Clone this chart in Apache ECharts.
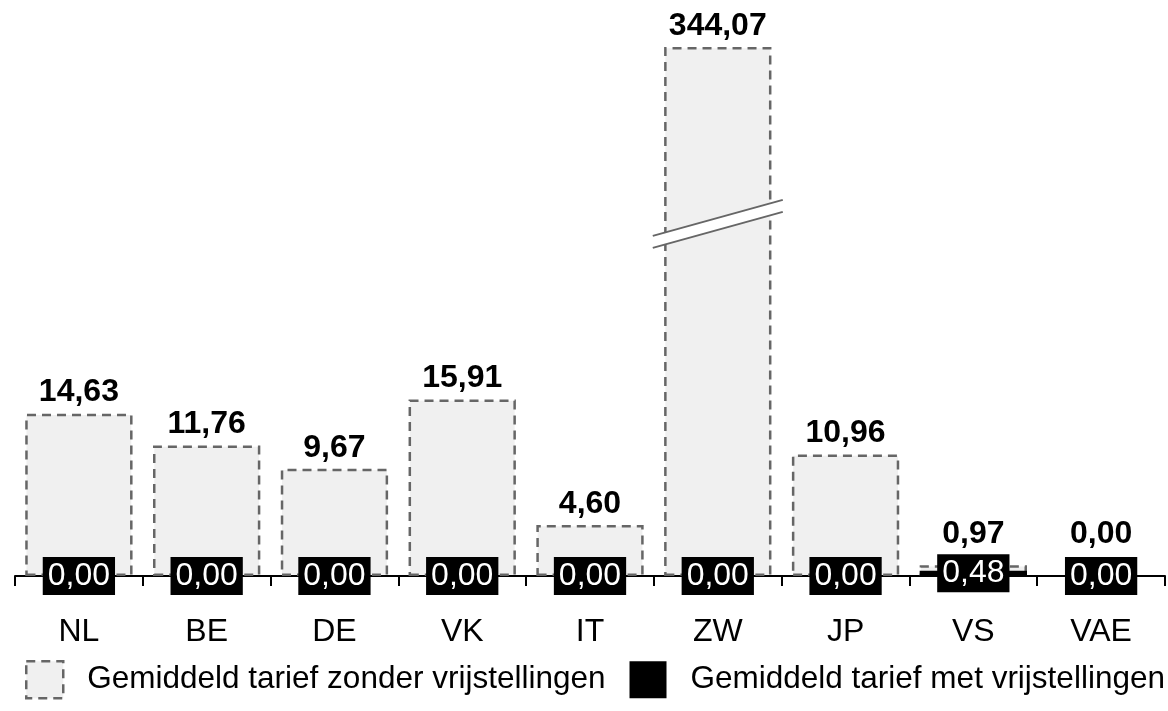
<!DOCTYPE html>
<html>
<head>
<meta charset="utf-8">
<script src="https://cdn.jsdelivr.net/npm/echarts@6/dist/echarts.min.js"></script>
<style>
  html, body { margin: 0; padding: 0; background: #fff; }
  #chart { width: 1168px; height: 711px; }
</style>
</head>
<body>
<div id="chart"></div>
<script>
// landen
var categories = ['NL', 'BE', 'DE', 'VK', 'IT', 'ZW', 'JP', 'VS', 'VAE'];
// gemiddeld tarief zonder vrijstellingen
var zonderValues = [14.63, 11.76, 9.67, 15.91, 4.60, 344.07, 10.96, 0.97, 0.00];
// gemiddeld tarief met vrijstellingen
var metValues = [0, 0, 0, 0, 0, 0, 0, 0.48, 0];
var seriesNames = ['Gemiddeld tarief zonder vrijstellingen', 'Gemiddeld tarief met vrijstellingen'];
// as-onderbreking (ZW is veel hoger)
var breakStart = 31.5;
var breakEnd = 328.9;

function fmt(p) {
    return Number(p.value).toFixed(2).replace('.', ',');
}

var font = 'Liberation Sans, Arial, sans-serif';
var grayStyle = {
    color: '#f0f0f0',
    borderColor: '#666',
    borderWidth: 2.5,
    borderType: [9, 6]
};
var chart = echarts.init(document.getElementById('chart'));

var option = {
    animation: false,
    textStyle: { fontFamily: font },
    grid: { left: 15, right: 3, top: 47, bottom: 135 },
    legend: {
        left: 25,
        top: 660,
        padding: 0,
        width: 1160,
        itemWidth: 37,
        itemHeight: 37,
        itemGap: 24,
        icon: 'rect',
        textStyle: { fontSize: 31.5, color: '#000', fontFamily: font, padding: [0, 0, 0, 19] },
        data: [
            { name: seriesNames[0], itemStyle: grayStyle },
            { name: seriesNames[1] }
        ]
    },
    xAxis: {
        type: 'category',
        data: categories,
        axisLine: { lineStyle: { color: '#000', width: 2 } },
        axisTick: { show: true, length: 10, lineStyle: { color: '#000', width: 2 } },
        axisLabel: { fontSize: 32, color: '#000', margin: 40, fontFamily: font }
    },
    yAxis: {
        type: 'value',
        show: false,
        min: 0,
        max: 344.07,
        breaks: [{ start: breakStart, end: breakEnd, gap: 1 }],
        breakArea: { show: false }
    },
    series: [{
        name: seriesNames[0],
        type: 'bar',
        barCategoryGap: '16%',
        barGap: '-100%',
        itemStyle: grayStyle,
        label: {
            show: true,
            position: 'top',
            fontSize: 32,
            fontWeight: 'bold',
            color: '#000',
            formatter: fmt
        },
        // kleine waarden: label boven het zwarte label schuiven
        data: zonderValues.map(function (v) {
            return {
                value: v,
                label: { distance: v < 1.5 ? 26 - v * 11 : 5 },
                itemStyle: v === 0 ? { borderWidth: 0 } : {}
            };
        })
    }, {
        name: seriesNames[1],
        type: 'bar',
        barCategoryGap: '16%',
        barGap: '-100%',
        z: 3,
        itemStyle: { color: '#000' },
        label: {
            show: true,
            position: 'inside',
            fontSize: 32,
            color: '#fff',
            backgroundColor: '#000',
            padding: [4, 5, 2, 5],
            formatter: fmt
        },
        data: metValues
    }]
};
chart.setOption(option);

// onderbrekingsteken op de ZW-balk
var zw = categories[zonderValues.indexOf(Math.max.apply(null, zonderValues))];
var cx = chart.convertToPixel({ xAxisIndex: 0 }, zw);
var y1 = chart.convertToPixel({ yAxisIndex: 0 }, breakStart);
var y2 = chart.convertToPixel({ yAxisIndex: 0 }, breakEnd);
var cy = (y1 + y2) / 2 + 3;
var hw = 65, rise = 18, th = 6;
var lineStyle = { stroke: '#666', lineWidth: 2 };
chart.setOption({
    graphic: [{
        type: 'polygon',
        z: 10,
        shape: { points: [[cx - hw, cy + rise - th], [cx + hw, cy - rise - th], [cx + hw, cy - rise + th], [cx - hw, cy + rise + th]] },
        style: { fill: '#fff' }
    }, {
        type: 'line',
        z: 11,
        shape: { x1: cx - hw, y1: cy + rise - th, x2: cx + hw, y2: cy - rise - th },
        style: lineStyle
    }, {
        type: 'line',
        z: 11,
        shape: { x1: cx - hw, y1: cy + rise + th, x2: cx + hw, y2: cy - rise + th },
        style: lineStyle
    }]
});
</script>
</body>
</html>
